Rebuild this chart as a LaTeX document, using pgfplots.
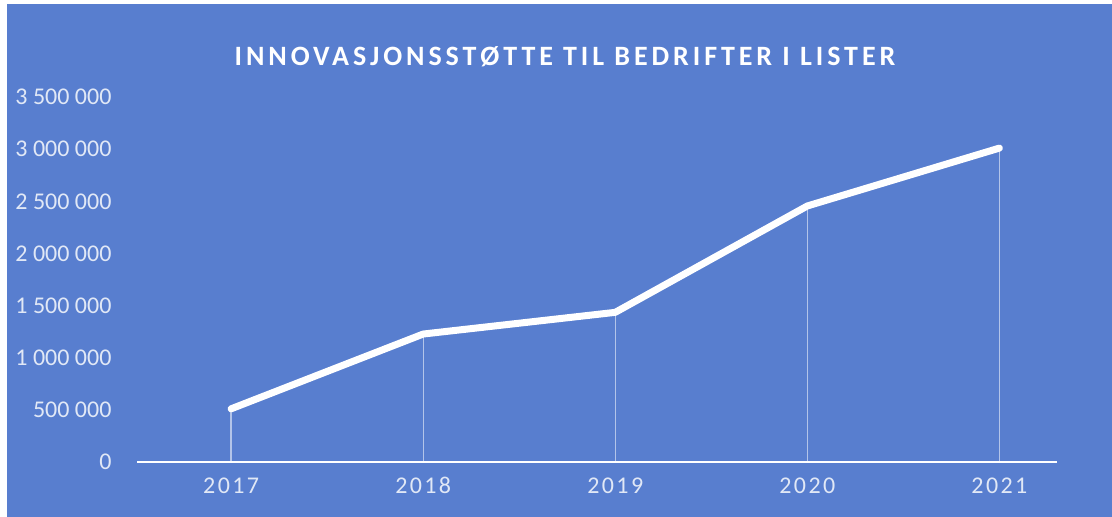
\documentclass[border=0pt]{standalone}
\usepackage{fontspec}
\setmainfont{Carlito}
\newfontfamily\titlefont[LetterSpace=14]{Carlito}
\newfontfamily\xfont[LetterSpace=10]{Carlito}
\usepackage{pgfplots}
\pgfplotsset{compat=1.18}
\definecolor{bg}{RGB}{88,126,207}
\definecolor{lbl}{RGB}{225,232,246}
\begin{document}
\begin{tikzpicture}[x=1pt,y=1pt]
\fill[white] (0,0) rectangle (1112,517);
\fill[bg] (7,0) rectangle (1112,513);
\node[text=white,font=\titlefont\bfseries\fontsize{28}{32}\selectfont] at (565,460) {INNOVASJONSSTØTTE TIL BEDRIFTER I LISTER};
\begin{axis}[
  at={(137pt,55pt)}, anchor=south west,
  scale only axis, width=920pt, height=365pt,
  xmin=-0.49, xmax=4.3,
  ymin=0, ymax=3500000,
  axis x line*=bottom, axis y line=none,
  x axis line style={white, line width=1.6pt, -},
  xtick={0,1,2,3,4},
  xticklabels={2017,2018,2019,2020,2021},
  xtick style={draw=none},
  ytick=\empty,
  xticklabel style={text=lbl, font=\xfont\fontsize{24}{28}\selectfont, yshift=-12pt},
  clip=false,
]
\addplot[ycomb, draw=white, opacity=0.55, line width=1.3pt] coordinates {(0,510000) (1,1227000) (2,1435000) (3,2455000) (4,3010000)};
\addplot[white, line width=7pt, line join=round, line cap=round] coordinates {(0,510000) (1,1227000) (2,1435000) (3,2455000) (4,3010000)};
\end{axis}
\foreach \v/\t in {0/0,1/500 000,2/1 000 000,3/1 500 000,4/2 000 000,5/2 500 000,6/3 000 000,7/3 500 000}{
  \node[anchor=east, text=lbl, font=\fontsize{24}{28}\selectfont] at (115, 55+\v*52.14) {\t};
}
\end{tikzpicture}
\end{document}
